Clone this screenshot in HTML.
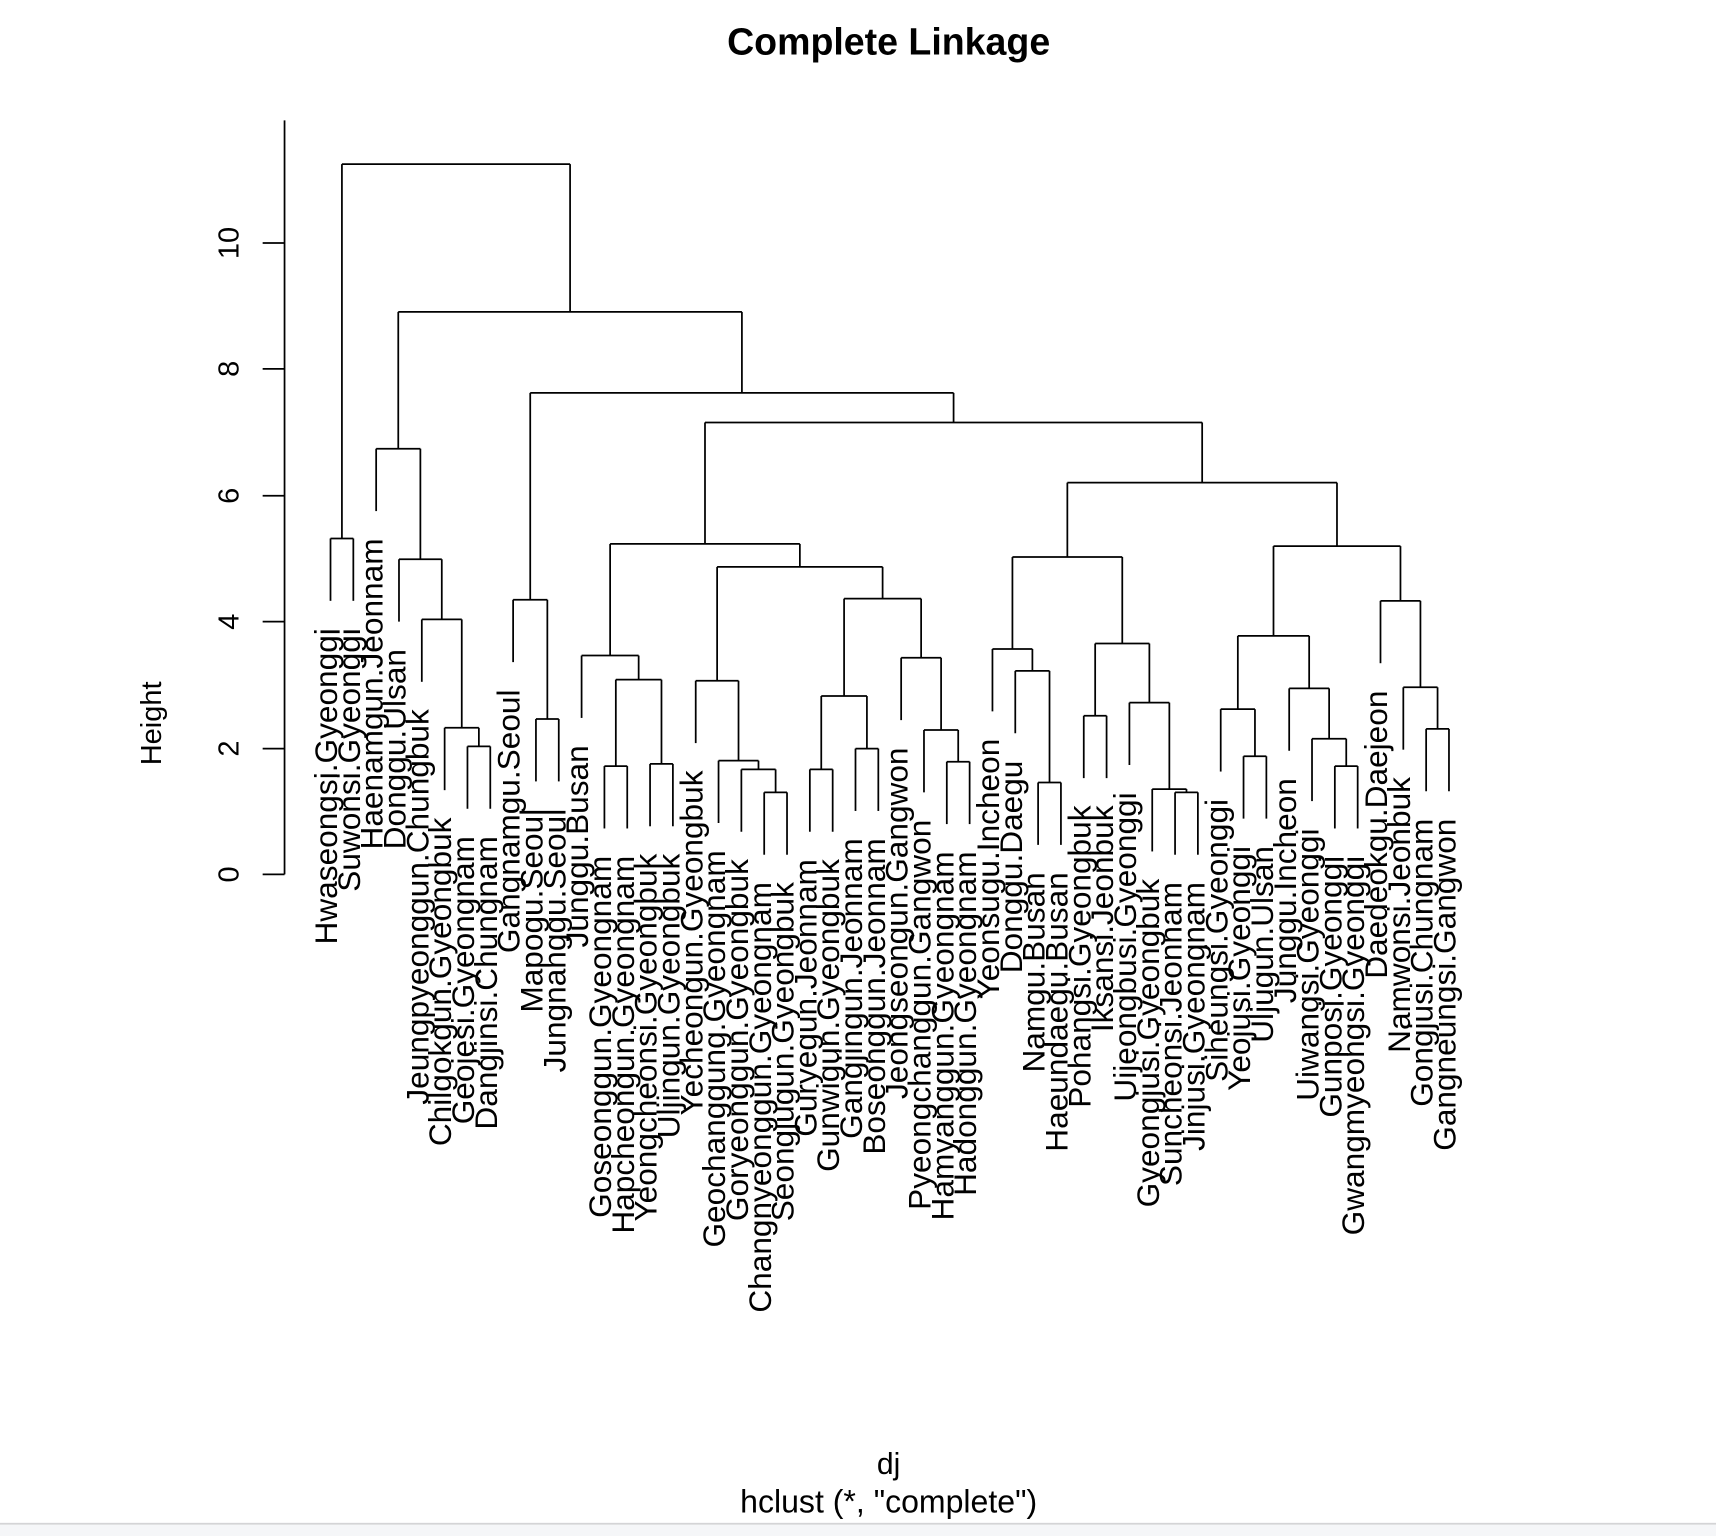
<!DOCTYPE html>
<html><head><meta charset="utf-8">
<style>
html,body{margin:0;padding:0;background:#fff;}
svg{display:block;}
text{font-family:"Liberation Sans",Arial,sans-serif;fill:#000;}
</style></head>
<body>
<svg id="s" width="1716" height="1536" viewBox="0 0 1568 1403.5" xmlns="http://www.w3.org/2000/svg">
<rect x="0" y="0" width="1568" height="1403.5" fill="#fff"/>
<rect x="0" y="1392" width="1568" height="12" fill="#f5f6f8"/>
<rect x="0" y="1391.5" width="1568" height="1.6" fill="#d4d4d6"/>
<text x="812" y="50" font-size="34.3" font-weight="bold" text-anchor="middle">Complete Linkage</text>
<text x="812" y="1347" font-size="27.5" text-anchor="middle">dj</text>
<text x="812" y="1382" font-size="29.3" text-anchor="middle">hclust (*, "complete")</text>
<text transform="translate(147,661) rotate(-90)" font-size="26.5" text-anchor="middle">Height</text>
<g stroke="#000" stroke-width="1.6" fill="none">
<line x1="260" y1="110" x2="260" y2="799"/>
<line x1="240" y1="799" x2="260" y2="799"/>
<line x1="240" y1="684" x2="260" y2="684"/>
<line x1="240" y1="568" x2="260" y2="568"/>
<line x1="240" y1="453" x2="260" y2="453"/>
<line x1="240" y1="337" x2="260" y2="337"/>
<line x1="240" y1="222" x2="260" y2="222"/>
</g>
<g font-size="26.5" text-anchor="middle">
<text transform="translate(218,799) rotate(-90)">0</text>
<text transform="translate(218,684) rotate(-90)">2</text>
<text transform="translate(218,568) rotate(-90)">4</text>
<text transform="translate(218,453) rotate(-90)">6</text>
<text transform="translate(218,337) rotate(-90)">8</text>
<text transform="translate(218,222) rotate(-90)">10</text>
</g>
<g id="tree" stroke="#000" stroke-width="1.6" fill="none"></g>
<g id="labels" font-size="28.9" text-anchor="end"></g>
</svg>
<script>
var names=["Hwaseongsi.Gyeonggi","Suwonsi.Gyeonggi","Haenamgun.Jeonnam","Donggu.Ulsan","Jeungpyeonggun.Chungbuk","Chilgokgun.Gyeongbuk","Geojesi.Gyeongnam","Dangjinsi.Chungnam","Gangnamgu.Seoul","Mapogu.Seoul","Jungnanggu.Seoul","Junggu.Busan","Goseonggun.Gyeongnam","Hapcheongun.Gyeongnam","Yeongcheonsi.Gyeongbuk","Uljingun.Gyeongbuk","Yecheongun.Gyeongbuk","Geochanggung.Gyeongnam","Goryeonggun.Gyeongbuk","Changnyeonggun.Gyeongnam","Seongjugun.Gyeongbuk","Guryegun.Jeonnam","Gunwigun.Gyeongbuk","Gangjingun.Jeonnam","Boseonggun.Jeonnam","Jeongseongun.Gangwon","Pyeongchanggun.Gangwon","Hamyanggun.Gyeongnam","Hadonggun.Gyeongnam","Yeonsugu.Incheon","Donggu.Daegu","Namgu.Busan","Haeundaegu.Busan","Pohangsi.Gyeongbuk","Iksansi.Jeonbuk","Uijeongbusi.Gyeonggi","Gyeongjusi.Gyeongbuk","Suncheonsi.Jeonnam","Jinjusi.Gyeongnam","Siheungsi.Gyeonggi","Yeojusi.Gyeonggi","Uljugun.Ulsan","Junggu.Incheon","Uiwangsi.Gyeonggi","Gunposi.Gyeonggi","Gwangmyeongsi.Gyeonggi","Daedeokgu.Daejeon","Namwonsi.Jeonbuk","Gongjusi.Chungnam","Gangneungsi.Gangwon"];
function N(y,a,b){return [y,a,b];}
var tree=N(150,N(492,1,2),
 N(285,
  N(410,3,N(511,4,N(566,5,N(665,6,N(682,7,8))))),
  N(359,
   N(548,9,N(657,10,11)),
   N(386,
    N(497,
     N(599,12,N(621,N(700,13,14),N(698,15,16))),
     N(518,
      N(622,17,N(695,18,N(703,19,N(724,20,21)))),
      N(547,
       N(636,N(703,22,23),N(684,24,25)),
       N(601,26,N(667,27,N(696,28,29)))))),
    N(441,
     N(509,
      N(593,30,N(613,31,N(715,32,33))),
      N(588,N(654,34,35),N(642,36,N(721,37,N(724,38,39))))),
     N(499,
      N(581,N(648,40,N(691,41,42)),N(629,43,N(675,44,N(700,45,46)))),
      N(549,47,N(628,48,N(666,49,50)))))))));
var T=document.getElementById('tree'),L=document.getElementById('labels'),ns="http://www.w3.org/2000/svg";
function line(x1,y1,x2,y2){var e=document.createElementNS(ns,'line');e.setAttribute('x1',x1);e.setAttribute('y1',y1);e.setAttribute('x2',x2);e.setAttribute('y2',y2);T.appendChild(e);}
function lx(i){return 302+(i-1)*(1022/49);}
function draw(n,py){
 if(typeof n==='number'){
  var x=lx(n),yb=py+57;
  line(x,py,x,yb);
  var t=document.createElementNS(ns,'text');
  t.setAttribute('transform','translate('+(x+6)+','+(yb+25)+') rotate(-90)');
  t.textContent=names[n-1];L.appendChild(t);
  return x;
 }
 var y=n[0];
 var xa=draw(n[1],y),xb=draw(n[2],y);
 if(typeof n[1]!=='number')line(xa,y,xa,n[1][0]);
 if(typeof n[2]!=='number')line(xb,y,xb,n[2][0]);
 line(xa,y,xb,y);
 return (xa+xb)/2;
}
draw(tree,150);
</script>
</body></html>
